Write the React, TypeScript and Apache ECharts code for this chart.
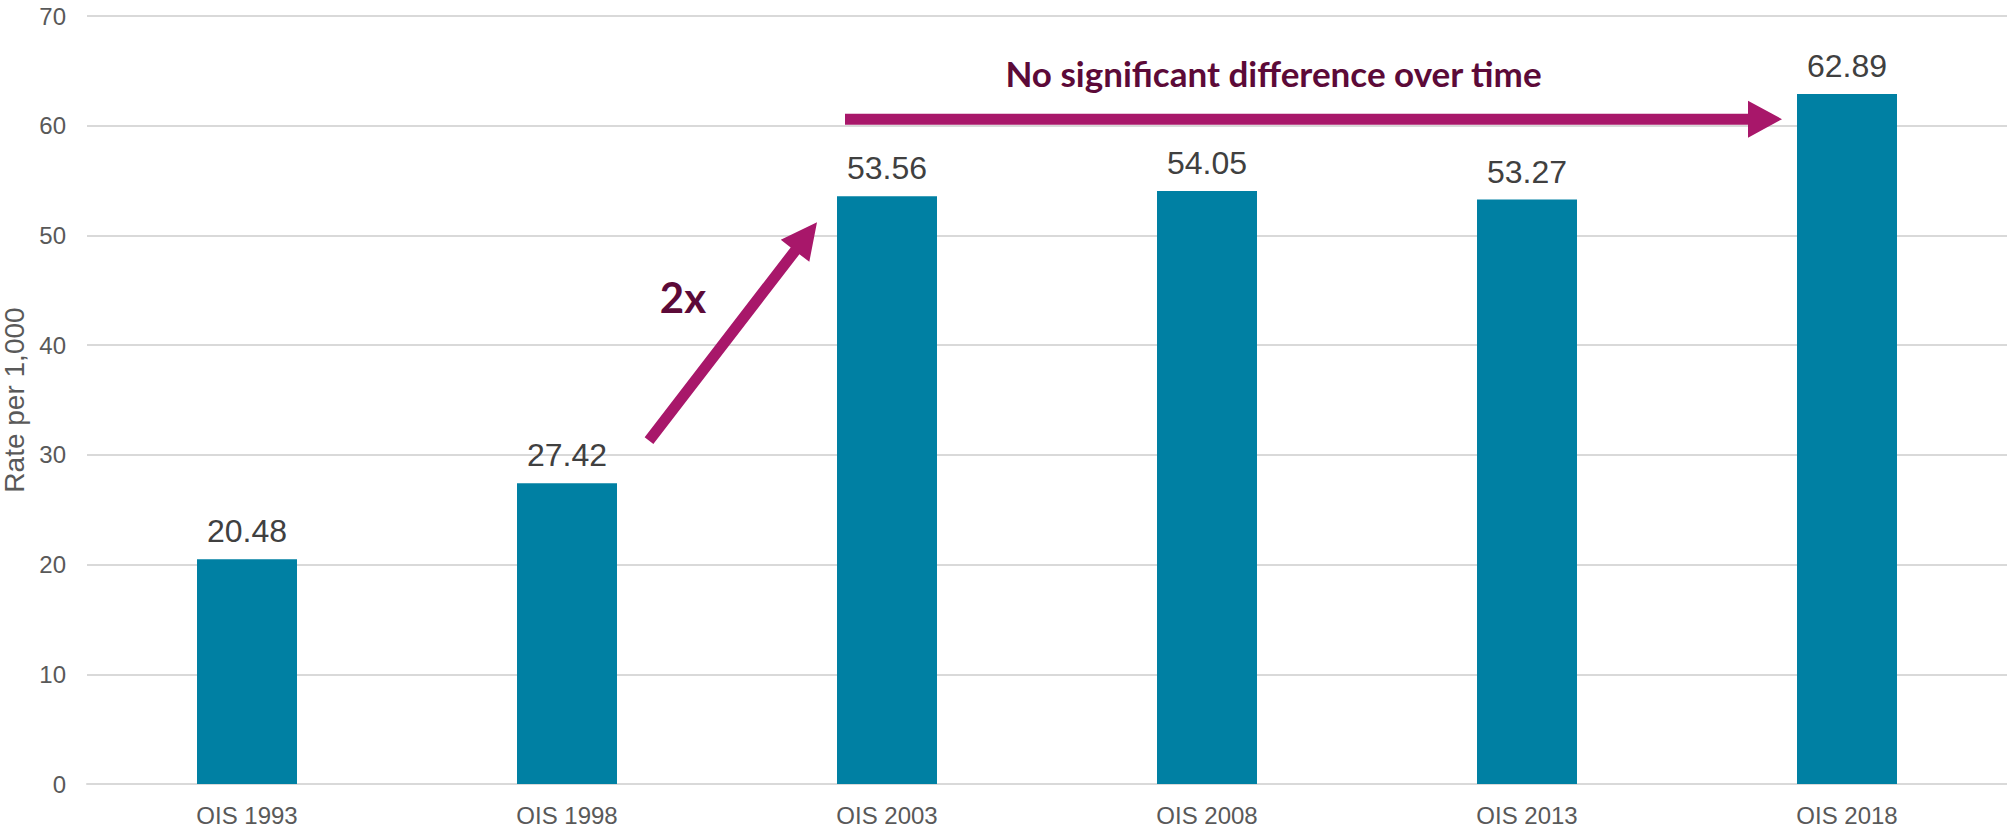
import React, { useEffect, useRef } from "react";
import * as echarts from "echarts";

const categories = ["OIS 1993", "OIS 1998", "OIS 2003", "OIS 2008", "OIS 2013", "OIS 2018"];
const rates = [20.48, 27.42, 53.56, 54.05, 53.27, 62.89];
const yTicks = { min: 0, max: 70, interval: 10 };
const yAxisName = "Rate per 1,000";
const trendText = "No significant difference over time";
const jumpText = "2x";

const BAR = "#0080A3";
const ARROW = "#A8176A";
const NOTE = "#5C0A38";
const FONT = "'Liberation Sans', Arial, Helvetica, sans-serif";

function arrowPoints(x1: number, y1: number, x2: number, y2: number, shaft: number, headL: number, headW: number) {
  const dx = x2 - x1, dy = y2 - y1;
  const len = Math.hypot(dx, dy);
  const ux = dx / len, uy = dy / len;
  const px = -uy, py = ux;
  const bx = x2 - ux * headL, by = y2 - uy * headL;
  const s = shaft / 2, h = headW / 2;
  return [
    [x1 + px * s, y1 + py * s],
    [bx + px * s, by + py * s],
    [bx + px * h, by + py * h],
    [x2, y2],
    [bx - px * h, by - py * h],
    [bx - px * s, by - py * s],
    [x1 - px * s, y1 - py * s],
  ];
}

export default function App() {
  const ref = useRef<HTMLDivElement>(null);
  useEffect(() => {
    document.body.style.margin = "0";
    const chart = echarts.init(ref.current!, undefined, { renderer: "svg" });
    chart.setOption({
      animation: false,
      grid: { left: 87, right: 0, top: 16, bottom: 44, containLabel: false, outerBoundsMode: "none" },
      xAxis: {
        type: "category",
        data: categories,
        axisTick: { show: false },
        axisLine: { lineStyle: { color: "#d9d9d9", width: 2 } },
        axisLabel: { color: "#595959", fontSize: 24, fontFamily: FONT, margin: 19 },
      },
      yAxis: {
        type: "value",
        min: yTicks.min,
        max: yTicks.max,
        interval: yTicks.interval,
        name: yAxisName,
        nameLocation: "middle",
        nameGap: 55,
        nameTextStyle: { color: "#595959", fontSize: 28, fontFamily: FONT },
        axisLine: { show: false },
        axisTick: { show: false },
        axisLabel: { color: "#595959", fontSize: 24, fontFamily: FONT, margin: 21 },
        splitLine: { lineStyle: { color: "#d9d9d9", width: 2 } },
      },
      series: [
        {
          type: "bar",
          data: rates,
          barWidth: 100,
          itemStyle: { color: BAR },
          label: {
            show: true,
            position: "top",
            distance: 12,
            color: "#404040",
            fontSize: 32,
            fontFamily: FONT,
            formatter: (p: any) => p.value.toFixed(2),
          },
        },
      ],
    });

    const px = (i: number, v: number) => chart.convertToPixel({ gridIndex: 0 }, [i, v]) as number[];
    const hStart = px(2, 60.6);
    const hEnd = px(5, 60.6);
    const dStart = px(1, 31.3);
    const dEnd = px(2, 51.2);
    const h = arrowPoints(hStart[0] - 42, hStart[1], hEnd[0] - 65, hEnd[1], 11, 34, 37);
    const d = arrowPoints(dStart[0] + 82, dStart[1], dEnd[0] - 70, dEnd[1], 11, 36, 36);
    chart.setOption({
      graphic: [
        { type: "polygon", shape: { points: h }, style: { fill: ARROW }, z: 10 },
        { type: "polygon", shape: { points: d }, style: { fill: ARROW }, z: 10 },
        {
          type: "text",
          x: (hStart[0] - 42 + hEnd[0] - 65) / 2 - 40,
          y: hStart[1] - 46,
          style: {
            text: trendText,
            fill: NOTE,
            font: "bold 35px Lato, 'Noto Sans', sans-serif",
            align: "center",
            verticalAlign: "middle",
          },
          z: 10,
        },
        {
          type: "text",
          x: dStart[0] + 116,
          y: px(1, 44.4)[1],
          style: {
            text: jumpText,
            fill: NOTE,
            font: "bold 42px Lato, 'Noto Sans', sans-serif",
            align: "center",
            verticalAlign: "middle",
          },
          z: 10,
        },
      ],
    });
    return () => chart.dispose();
  }, []);
  return <div ref={ref} style={{ width: 2007, height: 828 }} />;
}
